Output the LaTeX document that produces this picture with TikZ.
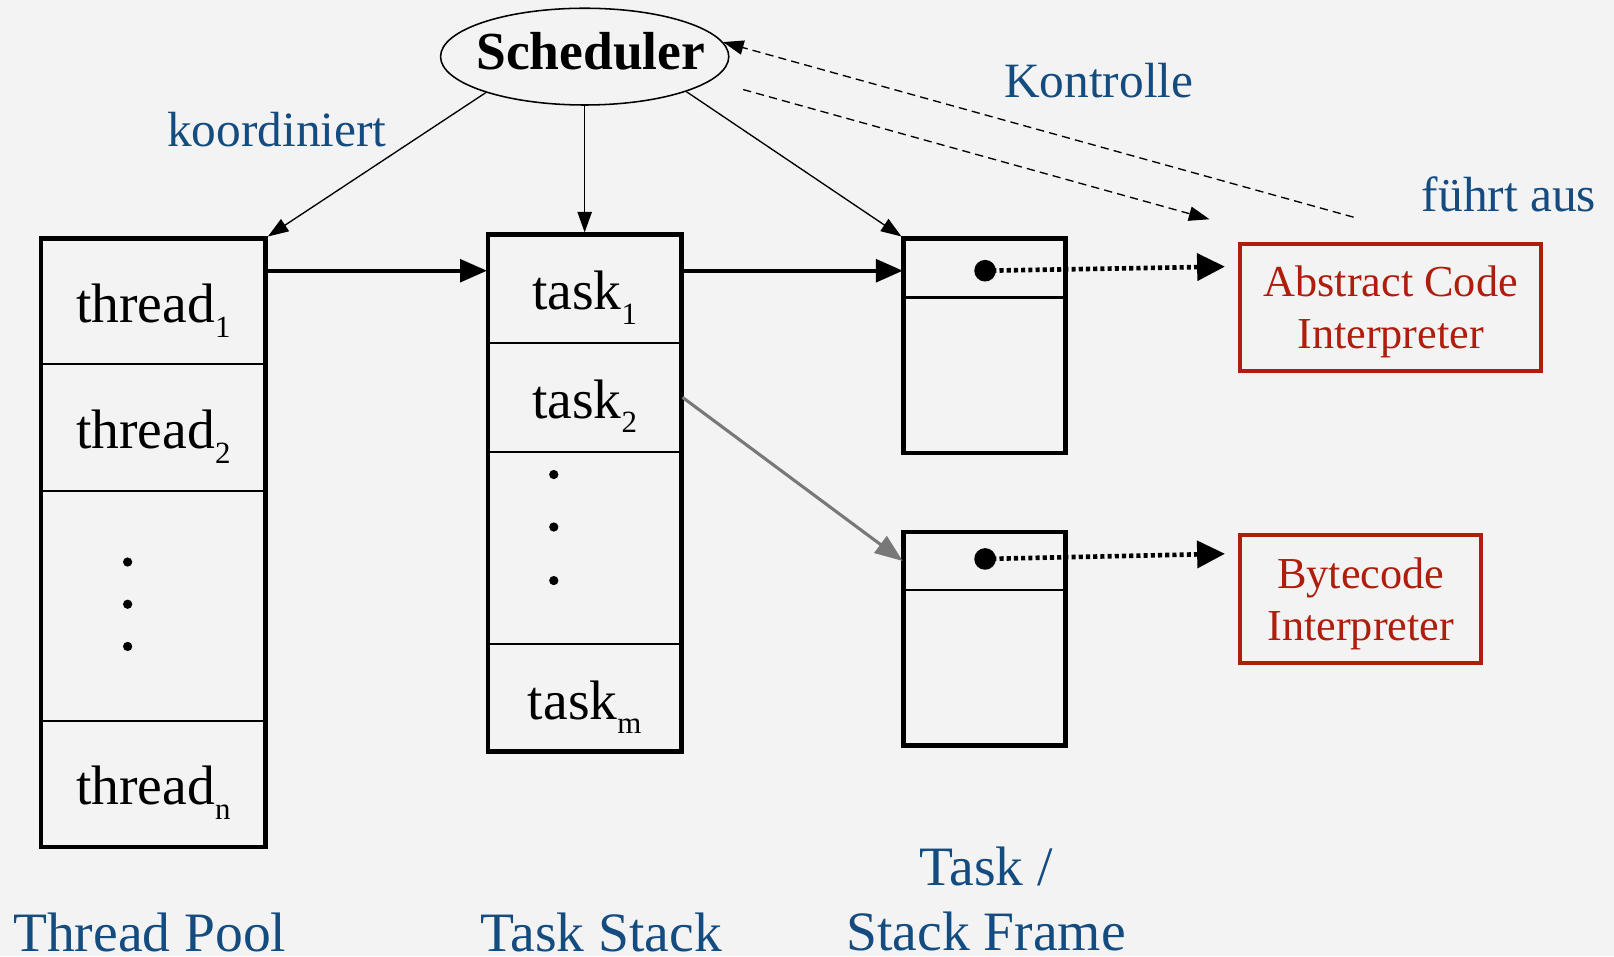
\documentclass[tikz,border=0pt]{standalone}
\usepackage{fontspec}
\setmainfont{Liberation Serif}
\usetikzlibrary{arrows.meta,shapes.geometric}
\definecolor{pagebg}{RGB}{243,243,243}
\definecolor{capblue}{RGB}{20,76,128}
\definecolor{interpred}{RGB}{175,30,12}
\definecolor{linkgray}{RGB}{120,120,120}
% lowered small index, e.g. thread_1
\newcommand{\lowsub}[1]{\raisebox{-0.26em}{\fontsize{30}{30}\selectfont #1}}

\begin{document}
\begin{tikzpicture}[x=1pt,y=-1pt,
  cellbox/.style={draw, line width=2pt, rectangle, inner sep=0pt,
    text height=45pt, text depth=4pt, font=\fontsize{54}{60}\selectfont},
  outerbox/.style={draw, line width=4.5pt, rectangle, inner sep=0pt},
  interp/.style={draw=interpred, line width=4pt, text=interpred, rectangle,
    inner sep=0pt, align=center, text depth=0pt, font=\fontsize{43}{50}\selectfont},
  pointer/.style={circle, fill=black, inner sep=0pt, minimum size=21pt},
  caption/.style={text=capblue, inner sep=0pt, anchor=base,
    font=\fontsize{48}{56}\selectfont},
  bigcaption/.style={caption, font=\fontsize{54}{63}\selectfont},
  thinarrow/.style={line width=1.3pt, -{Triangle[length=20pt,width=14pt]}},
  boldarrow/.style={line width=3.5pt, -{Triangle[length=26pt,width=22pt]}},
  grayarrow/.style={draw=linkgray, line width=3pt,
    -{Triangle[length=27pt,width=20pt,fill=linkgray]}},
  dotlink/.style={line width=4.5pt, dash pattern=on 4pt off 3pt,
    -{Triangle[length=27pt,width=26pt]}},
  dashlink/.style={line width=1.3pt, dash pattern=on 8pt off 5pt,
    -{Triangle[length=20pt,width=14pt]}}
]
\fill[pagebg] (0,0) rectangle (1568,929);
\useasboundingbox (0,0) rectangle (1568,929);

% Scheduler
\node[ellipse, draw, line width=1.5pt, minimum width=280pt, minimum height=94pt,
  inner sep=0pt, text height=36pt, text depth=10pt,
  font=\fontsize{52}{60}\selectfont\bfseries] (sched) at (568,55)
  {\makebox[0pt]{\hspace{12pt}Scheduler}};

% Thread pool
\node[cellbox, minimum width=218pt, minimum height=122pt] (t1) at (149,293) {thread\lowsub{1}};
\node[cellbox, minimum width=218pt, minimum height=123pt] (t2) at (149,415.5) {thread\lowsub{2}};
\node[cellbox, minimum width=218pt, minimum height=223pt] (tdots) at (149,588.5) {};
\node[cellbox, minimum width=218pt, minimum height=123pt] (tn) at (149,761.5) {thread\lowsub{n}};
\node[outerbox, minimum width=218pt, minimum height=591pt] (pool) at (149,527.5) {};
\foreach \yy in {546,587,628} \fill (124,\yy) circle[radius=4.5pt];

% Task stack
\node[cellbox, minimum width=188pt, minimum height=105pt] (k1) at (568,280.5) {task\lowsub{1}};
\node[cellbox, minimum width=188pt, minimum height=106pt] (k2) at (568,386) {task\lowsub{2}};
\node[cellbox, minimum width=188pt, minimum height=187pt] (kdots) at (568,532.5) {};
\node[cellbox, minimum width=188pt, minimum height=104pt] (km) at (568,678) {task\lowsub{m}};
\node[outerbox, minimum width=188pt, minimum height=502pt] (stack) at (568,479) {};
\foreach \yy in {461,512,564} \fill (538,\yy) circle[radius=4.5pt];

% Stack frames
\node[cellbox, minimum width=157pt, minimum height=57pt] (f1a) at (956.5,260.5) {};
\node[cellbox, minimum width=157pt, minimum height=151pt] (f1b) at (956.5,364.5) {};
\node[outerbox, minimum width=157pt, minimum height=208pt] (f1) at (956.5,336) {};
\node[cellbox, minimum width=157pt, minimum height=56pt] (f2a) at (956.5,545) {};
\node[cellbox, minimum width=157pt, minimum height=151pt] (f2b) at (956.5,648.5) {};
\node[outerbox, minimum width=157pt, minimum height=207pt] (f2) at (956.5,620.5) {};
\node[pointer] (d1) at (957,263) {};
\node[pointer] (d2) at (957,543) {};

% Interpreters
\node[interp, minimum width=292pt, minimum height=123pt] (aci) at (1351,298.5) {Abstract Code\\Interpreter};
\node[interp, minimum width=234pt, minimum height=124pt] (bci) at (1322,582) {Bytecode\\Interpreter};

% Labels
\node[caption] (lkoord) at (269,142) {koordiniert};
\node[caption] (lkontr) at (1067.5,95) {Kontrolle};
\node[caption] (lfuehrt) at (1466,205) {führt aus};
\node[bigcaption] (cpool) at (145.5,924) {Thread Pool};
\node[bigcaption] (cstack) at (584,924) {Task Stack};
\node[bigcaption, anchor=south, align=center] (cframe) at (958,924) {Task /\\Stack Frame};

% Connectors
\coordinate (rowA) at (0,263);
\coordinate (acitip) at (1190,259);
\coordinate (bcitip) at (1190,538);
\coordinate (ctrlA) at (722,87);
\coordinate (ctrlB) at (1175,213);
\coordinate (ctrlC) at (1315,211);

\draw[thinarrow] (sched.200) -- (pool.north east);
\draw[thinarrow] (sched.south) -- (stack.north);
\draw[thinarrow] (sched.341) -- (f1.north west);
\draw[boldarrow] (t1.east |- rowA) -- (k1.west |- rowA);
\draw[boldarrow] (k1.east |- rowA) -- (f1a.west |- rowA);
\draw[grayarrow] (k2.east) -- (f2a.west);
\draw[dotlink] (d1.center) -- (acitip);
\draw[dotlink] (d2.center) -- (bcitip);
\draw[dashlink] (ctrlA) -- (ctrlB);
\draw[dashlink] (ctrlC) -- (sched.6);
\end{tikzpicture}
\end{document}
